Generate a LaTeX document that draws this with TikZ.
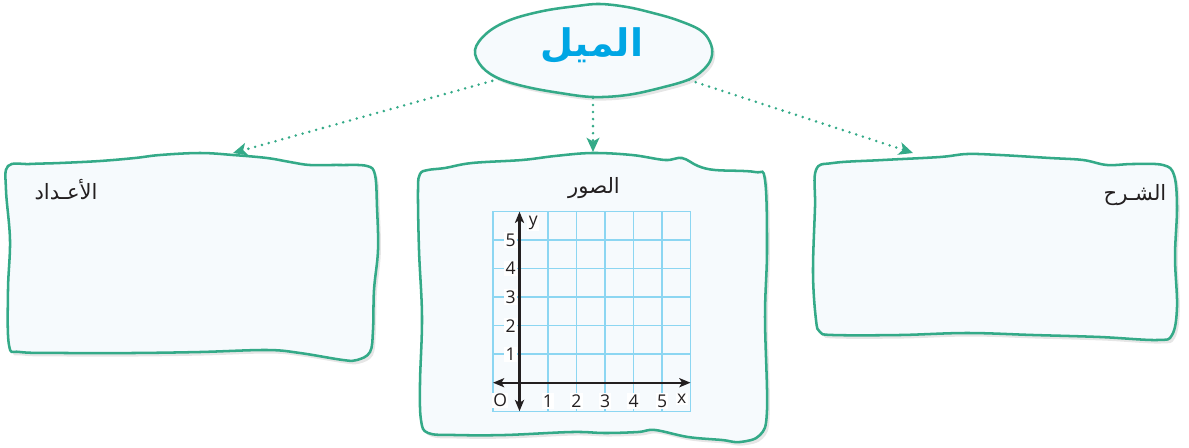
\documentclass[tikz,border=0pt]{standalone}
\usepackage{fontspec}
\setmainfont{Open Sans}
\newfontfamily\arabicfont[Script=Arabic]{DejaVu Sans}
\TeXXeTstate=1
\usepackage{xcolor}
\definecolor{edgegreen}{RGB}{52,170,136}
\definecolor{slopeblue}{RGB}{0,166,228}
\definecolor{gridblue}{RGB}{140,214,242}
\definecolor{boxfill}{RGB}{246,250,253}
\definecolor{labelgray}{RGB}{35,31,32}
\usepackage{tikz}
\usetikzlibrary{arrows.meta, shadows}

\begin{document}
\begin{tikzpicture}[
    x=0.025cm, y=-0.025cm,
    every node/.style={font=\arabicfont\fontsize{15}{17}\selectfont, text=labelgray},
    wavybox/.style={draw=edgegreen, line width=1.8pt, fill=boxfill,
      drop shadow={opacity=0.2, shadow xshift=2pt, shadow yshift=-2.5pt}},
    linkarrow/.style={draw=edgegreen, line width=2pt, line cap=round,
      dash pattern=on 0pt off 5pt,
      -{Stealth[length=10pt, width=9pt, inset=2.5pt, fill=edgegreen]}},
    gridline/.style={draw=gridblue, line width=1pt},
    axisline/.style={draw=labelgray, line width=1.7pt,
      {Stealth[length=8pt, width=6.5pt, inset=2pt]}-{Stealth[length=8pt, width=6.5pt, inset=2pt]}},
    ticklab/.style={font=\normalfont\fontsize{12.5}{13}\selectfont, fill=white, inner sep=1pt},
  ]
    \useasboundingbox (0,0) rectangle (1189,447);

    % cloud on top
    \draw[wavybox] plot[smooth cycle, tension=0.6] coordinates {
      (475,50) (487,33) (510,20) (543,11) (577,6) (600,4) (627,7) (653,13)
      (677,20) (700,30) (710,42) (712,55) (706,67) (690,79) (660,88)
      (627,95) (593,97) (560,93) (527,87) (500,79) (482,67)};
    \node[font=\arabicfont\bfseries\fontsize{27}{29}\selectfont, text=slopeblue]
      (slope) at (592,46) {\beginR الميل\endR};

    % three boxes
    \draw[wavybox] plot[smooth cycle, tension=0.6] coordinates {
      (8,166) (30,164) (60,163) (100,161) (135,158) (160,155) (200,153)
      (233,155) (267,158) (290,162) (310,165) (340,165) (367,166) (375,175)
      (377,207) (378,250) (374,290) (373,330) (370,352) (357,360) (343,360)
      (300,353) (267,350) (200,352) (133,353) (67,353) (20,352) (9,345)
      (8,290) (10,240) (6,190)};
    \draw[wavybox] plot[smooth cycle, tension=0.6] coordinates {
      (420,174) (428,170) (445,168) (472,163) (522,160) (555,156) (592,153)
      (632,155) (665,160) (682,158) (698,166) (715,170) (755,172) (765,180)
      (767,250) (765,317) (767,410) (760,435) (740,442) (722,440) (688,437)
      (655,430) (638,432) (605,433) (572,432) (505,435) (455,435) (428,433)
      (421,420) (420,383) (422,317) (419,250) (418,190)};
    \draw[wavybox] plot[smooth cycle, tension=0.6] coordinates {
      (816,170) (833,163) (883,160) (940,157) (967,154) (1000,155) (1050,158)
      (1083,160) (1107,165) (1133,164) (1163,165) (1174,175) (1177,207)
      (1175,257) (1177,307) (1172,335) (1157,340) (1100,337) (1033,335)
      (967,333) (900,335) (833,335) (820,332) (816,320) (813,273) (815,207)};

    % box titles
    \node (numbers)  at (66,190)   {\beginR الأعـداد\endR};
    \node (pictures) at (594,188)  {\beginR الصور\endR};
    \node (explain)  at (1135,195) {\beginR الشـرح\endR};

    % dotted links
    \coordinate (fromL) at (499,79);
    \coordinate (fromM) at (593,98);
    \coordinate (fromR) at (689,80);
    \coordinate (toL) at (233,153);
    \coordinate (toM) at (593,152);
    \coordinate (toR) at (913,153);
    \draw[linkarrow] (fromL) -- (toL);
    \draw[linkarrow] (fromM) -- (toM);
    \draw[linkarrow] (fromR) -- (toR);

    % coordinate grid
    \begin{scope}[shift={(519.5,382.7)}, x=0.7125cm, y=0.7125cm]
      \draw[gridline, step=1] (-0.93,-1) grid (6,6);
      \draw[gridline] (-0.93,-1) rectangle (6,6);
      \foreach \n in {1,...,5} {
        \node[ticklab] (ylab\n) at (-0.31,\n) {\n};
        \node[ticklab] (xlab\n) at (\n,-0.64) {\n};
      }
      \node[ticklab] (orig) at (-0.68,-0.62) {O};
      \node[ticklab] (xname) at (5.69,-0.58) {x};
      \node[ticklab] (yname) at (0.48,5.6) {y};
      \coordinate (xl) at (-0.93,0);
      \coordinate (xr) at (6,0);
      \coordinate (yb) at (0,-1);
      \coordinate (yt) at (0,6);
      \draw[axisline] (xl) -- (xr);
      \draw[axisline] (yb) -- (yt);
    \end{scope}
\end{tikzpicture}
\end{document}
